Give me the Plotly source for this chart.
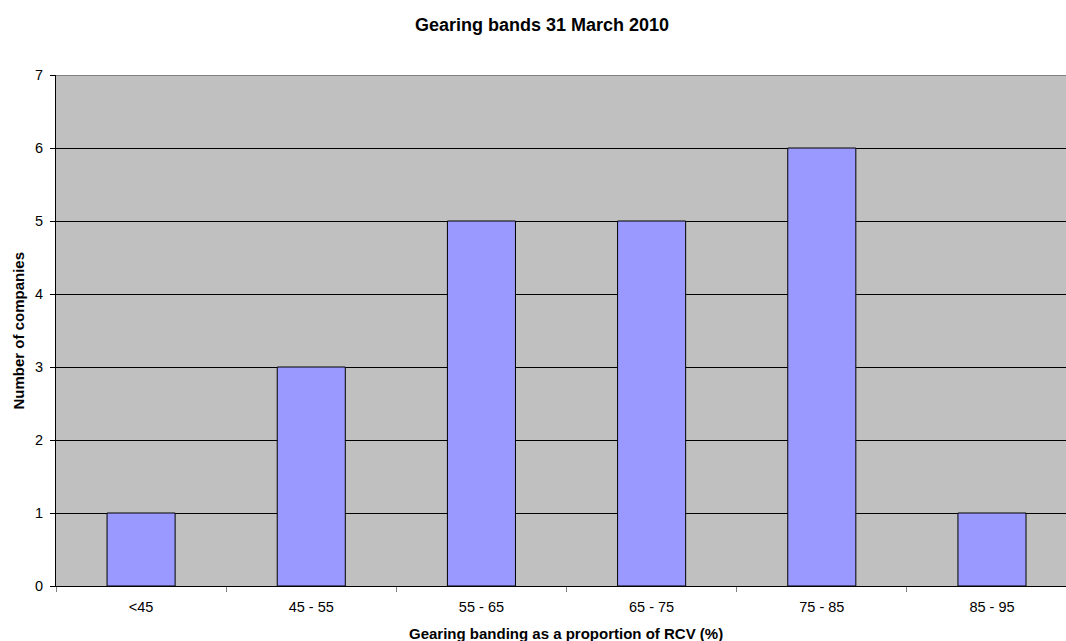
import plotly.graph_objects as go

# Gearing bands and number of companies in each band
bands = ["<45", "45 - 55", "55 - 65", "65 - 75", "75 - 85", "85 - 95"]
companies = [1, 3, 5, 5, 6, 1]

FONT = "Liberation Sans, Arial, sans-serif"
W, H = 1066, 641
L, T, B = 56, 75, 55
PLOT_H = H - T - B

fig = go.Figure()
fig.add_trace(go.Bar(
    x=bands,
    y=companies,
    width=0.4,
    marker=dict(color="#9999FF", line=dict(color="#000000", width=1)),
    hoverinfo="x+y",
))

fig.update_layout(
    width=W,
    height=H,
    autosize=False,
    margin=dict(l=L, r=0, t=T, b=B),
    paper_bgcolor="#FFFFFF",
    plot_bgcolor="#C0C0C0",
    showlegend=False,
    font=dict(family=FONT, size=14, color="#000000"),
    title=dict(
        text="<b>Gearing bands 31 March 2010</b>",
        x=542 / W, xanchor="center",
        y=1 - 25 / H, yanchor="middle",
        font=dict(family=FONT, size=18, color="#000000"),
    ),
    xaxis=dict(
        type="category",
        range=[-0.5, 5.435],
        showgrid=False,
        showline=True,
        linecolor="#000000",
        linewidth=1,
        ticks="outside",
        tickson="boundaries",
        ticklen=5,
        tickcolor="#808080",
        ticklabelstandoff=8,
        tickfont=dict(family=FONT, size=14.5, color="#000000"),
        zeroline=False,
        fixedrange=True,
    ),
    yaxis=dict(
        range=[0, 7],
        dtick=1,
        showgrid=True,
        gridcolor="#000000",
        gridwidth=1,
        showline=True,
        linecolor="#000000",
        linewidth=1,
        ticks="outside",
        ticklen=5,
        tickcolor="#000000",
        ticklabelstandoff=4,
        tickfont=dict(family=FONT, size=14.5, color="#000000"),
        zeroline=False,
        fixedrange=True,
    ),
)

# Grey top border of the plot area at the axis maximum
fig.add_shape(
    type="line", xref="paper", yref="y",
    x0=0, x1=1, y0=7, y1=7,
    line=dict(color="#808080", width=2),
)

# Axis titles
fig.add_annotation(
    text="<b>Gearing banding as a proportion of RCV (%)</b>",
    xref="paper", yref="paper",
    x=(566 - L) / (W - L), y=-(633 - (H - B)) / PLOT_H,
    xanchor="center", yanchor="middle",
    showarrow=False,
    font=dict(family=FONT, size=15, color="#000000"),
)
fig.add_annotation(
    text="<b>Number of companies</b>",
    xref="paper", yref="paper",
    x=-(L - 18) / (W - L), y=0.5,
    xanchor="center", yanchor="middle",
    textangle=-90,
    showarrow=False,
    font=dict(family=FONT, size=15, color="#000000"),
)

fig.write_html("out.html", config={"displayModeBar": False})
